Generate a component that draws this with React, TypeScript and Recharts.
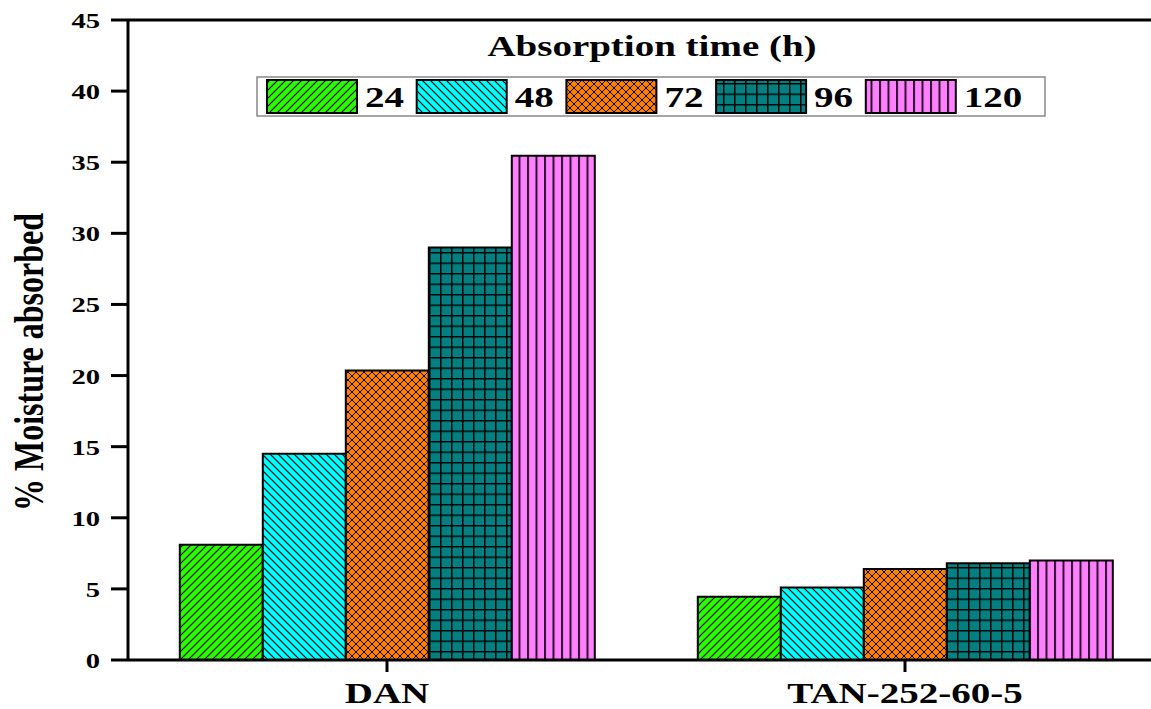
import React from "react";
import { BarChart, Bar, XAxis, YAxis, ReferenceLine } from "recharts";

const categories = ["DAN", "TAN-252-60-5"];
const hours = ["24", "48", "72", "96", "120"];
const absorbed24 = [8.1, 4.45];
const absorbed48 = [14.5, 5.1];
const absorbed72 = [20.35, 6.4];
const absorbed96 = [29.0, 6.8];
const absorbed120 = [35.45, 7.0];
const yTicks = [0, 5, 10, 15, 20, 25, 30, 35, 40, 45];

const seriesValues = [absorbed24, absorbed48, absorbed72, absorbed96, absorbed120];
const fills = ["url(#hatch24)", "url(#hatch48)", "url(#hatch72)", "url(#hatch96)", "url(#hatch120)"];

const data = categories.map((name, i) => {
  const row: Record<string, string | number> = { name };
  hours.forEach((h, k) => {
    row["h" + h] = seriesValues[k][i];
  });
  return row;
});

const FONT = '"Liberation Serif", "Times New Roman", serif';
const STRETCH = 1.3;

function Patterns() {
  return (
    <defs>
      <pattern id="hatch24" patternUnits="userSpaceOnUse" width="8" height="8">
        <rect width="8" height="8" fill="#2aff00" />
        <path d="M-2,2 L2,-2 M0,8 L8,0 M6,10 L10,6" stroke="#000" strokeWidth="1.2" />
      </pattern>
      <pattern id="hatch48" patternUnits="userSpaceOnUse" width="8" height="8">
        <rect width="8" height="8" fill="#00ffff" />
        <path d="M-2,6 L2,10 M0,0 L8,8 M6,-2 L10,2" stroke="#000" strokeWidth="1.2" />
      </pattern>
      <pattern id="hatch72" patternUnits="userSpaceOnUse" width="8" height="8">
        <rect width="8" height="8" fill="#ff8000" />
        <path
          d="M-2,2 L2,-2 M0,8 L8,0 M6,10 L10,6 M-2,6 L2,10 M0,0 L8,8 M6,-2 L10,2"
          stroke="#000"
          strokeWidth="1"
        />
      </pattern>
      <pattern id="hatch96" patternUnits="userSpaceOnUse" width="11" height="10.5">
        <rect width="11" height="10.5" fill="#008080" />
        <path d="M0.75,0 V10.5 M0,0.75 H11" stroke="#000" strokeWidth="1.5" />
      </pattern>
      <pattern id="hatch120" patternUnits="userSpaceOnUse" width="8.5" height="8">
        <rect width="8.5" height="8" fill="#ff80ff" />
        <path d="M1,0 V8" stroke="#2a102a" strokeWidth="2" />
      </pattern>
    </defs>
  );
}

function YTick(props: any) {
  const { x, y, payload } = props;
  return (
    <text
      transform={`translate(${x},${y + 8}) scale(${STRETCH},1)`}
      textAnchor="end"
      fontFamily={FONT}
      fontWeight="bold"
      fontSize={22}
      fill="#000"
    >
      {payload.value}
    </text>
  );
}

function XTick(props: any) {
  const { x, y, payload } = props;
  return (
    <text
      transform={`translate(${x},${y + 29}) scale(${STRETCH},1)`}
      textAnchor="middle"
      fontFamily={FONT}
      fontWeight="bold"
      fontSize={30}
      fill="#000"
    >
      {payload.value}
    </text>
  );
}

function LegendBox() {
  return (
    <svg
      width={800}
      height={100}
      style={{ position: "absolute", left: 250, top: 20 }}
    >
      <text
        transform={`translate(402,36) scale(${STRETCH},1)`}
        textAnchor="middle"
        fontFamily={FONT}
        fontWeight="bold"
        fontSize={30}
      >
        Absorption time (h)
      </text>
      <rect x={7} y={57} width={788} height={39} fill="#fff" stroke="#888" strokeWidth={1.5} />
      {hours.map((h, i) => (
        <g key={h}>
          <rect
            x={17 + i * 149.7}
            y={60}
            width={90}
            height={33}
            fill={fills[i]}
            stroke="#000"
            strokeWidth={2}
          />
          <text
            transform={`translate(${115 + i * 149.7},87) scale(${STRETCH},1)`}
            fontFamily={FONT}
            fontWeight="bold"
            fontSize={30}
          >
            {h}
          </text>
        </g>
      ))}
    </svg>
  );
}

export default function App() {
  return (
    <div
      style={{
        position: "absolute",
        left: 0,
        top: 0,
        width: 1151,
        height: 709,
        overflow: "hidden",
        background: "#fff",
      }}
    >
      <BarChart
        width={1180}
        height={709}
        data={data}
        margin={{ top: 20, right: 16, bottom: 9, left: 68 }}
        barCategoryGap="10%"
        barGap={0}
      >
        <Patterns />
        <XAxis
          dataKey="name"
          height={40}
          tickSize={12}
          tick={<XTick />}
          axisLine={{ stroke: "#000", strokeWidth: 3 }}
          tickLine={{ stroke: "#000", strokeWidth: 3 }}
        />
        <YAxis
          width={60}
          domain={[0, 45]}
          ticks={yTicks}
          tickSize={17}
          tickMargin={11}
          tick={<YTick />}
          axisLine={{ stroke: "#000", strokeWidth: 3 }}
          tickLine={{ stroke: "#000", strokeWidth: 3 }}
          interval={0}
        />
        <ReferenceLine y={45} stroke="#000" strokeWidth={3} />
        {hours.map((h, i) => (
          <Bar
            key={h}
            dataKey={"h" + h}
            name={h}
            fill={fills[i]}
            stroke="#000"
            strokeWidth={2}
            isAnimationActive={false}
          />
        ))}
        <text
          transform={`translate(43,362) rotate(-90) scale(1,${STRETCH})`}
          textAnchor="middle"
          fontFamily={FONT}
          fontWeight="bold"
          fontSize={32}
        >
          % Moisture absorbed
        </text>
      </BarChart>
      <LegendBox />
    </div>
  );
}
